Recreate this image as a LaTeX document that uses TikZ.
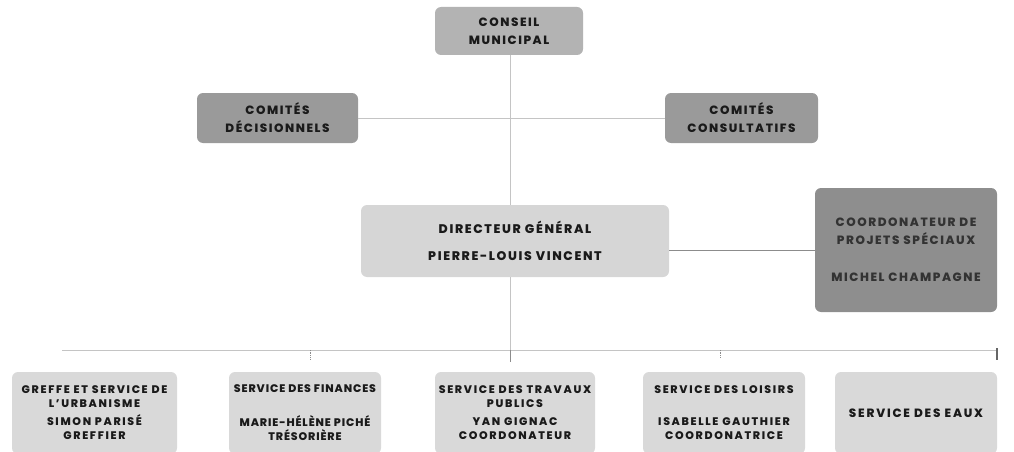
\documentclass[tikz,border=0pt]{standalone}
\usepackage{fontspec}
\newfontfamily\popa{Poppins}[LetterSpace=13, BoldFont={Poppins ExtraBold}]
\newfontfamily\popb{Poppins}[LetterSpace=15, BoldFont={Poppins ExtraBold}]
\newfontfamily\popc{Poppins}[LetterSpace=8, BoldFont={Poppins ExtraBold}]
\definecolor{cmun}{HTML}{B3B3B3}
\definecolor{ccom}{HTML}{9A9A9A}
\definecolor{cdg}{HTML}{D6D6D6}
\definecolor{ccoord}{HTML}{8E8E8E}
\definecolor{csvc}{HTML}{D9D9D9}
\definecolor{ctxt}{HTML}{1A1A1A}
\definecolor{cline}{HTML}{C4C4C4}
\tikzset{
  orgbox/.style={rounded corners=6pt, align=center, inner sep=0pt, text=ctxt,
    font=\popa\bfseries\fontsize{12}{18}\selectfont},
  svcbox/.style={orgbox, fill=csvc, minimum height=82pt,
    font=\popb\bfseries\fontsize{11}{14}\selectfont},
  link/.style={draw=cline, line width=0.7pt},
  tick/.style={draw=black!45, line width=0.7pt},
}
\begin{document}
\begin{tikzpicture}[x=1pt,y=-1pt]
\useasboundingbox (0,0) rectangle (1014,452);
% top level
\node[orgbox, fill=cmun, minimum width=148pt, minimum height=48pt] (conseil) at (509,31) {CONSEIL\\MUNICIPAL};
\node[orgbox, fill=ccom, minimum width=161pt, minimum height=50pt] (comdec) at (277.5,118) {COMITÉS\\DÉCISIONNELS};
\node[orgbox, fill=ccom, minimum width=153pt, minimum height=50pt] (comcon) at (741.5,118) {COMITÉS\\CONSULTATIFS};
\node[orgbox, fill=cdg, minimum width=308pt, minimum height=72pt,
  font=\popa\bfseries\fontsize{12.5}{27}\selectfont] (dg) at (515,241) {DIRECTEUR GÉNÉRAL\\PIERRE-LOUIS VINCENT};
\node[orgbox, fill=ccoord, minimum width=182pt, minimum height=124pt, text=black!80] (coord) at (906,250)
  {COORDONATEUR DE\\PROJETS SPÉCIAUX\\[19pt]MICHEL CHAMPAGNE};
% services
\node[svcbox, minimum width=165pt] (s1) at (94.5,413) {GREFFE ET SERVICE DE\\L’URBANISME\\[4pt]SIMON PARISÉ\\GREFFIER};
\node[svcbox, minimum width=152pt, font=\popc\bfseries\fontsize{11}{14}\selectfont] (s2) at (305,413)
  {SERVICE DES FINANCES\\\strut\\[4pt]MARIE-HÉLÈNE PICHÉ\\TRÉSORIÈRE};
\node[svcbox, minimum width=160pt] (s3) at (515,413) {SERVICE DES TRAVAUX\\PUBLICS\\[4pt]YAN GIGNAC\\COORDONATEUR};
\node[svcbox, minimum width=162pt] (s4) at (724,413) {SERVICE DES LOISIRS\\\strut\\[4pt]ISABELLE GAUTHIER\\COORDONATRICE};
\node[svcbox, minimum width=162pt, font=\popb\bfseries\fontsize{12}{14}\selectfont] (s5) at (916,413) {SERVICE DES EAUX};
% bus coordinates
\coordinate (busL) at (62,350);
\coordinate (busR) at (997,350);
\coordinate (busM) at (510,350);
\coordinate (bus2) at (310,350);
\coordinate (bus4) at (720,350);
% connectors
\draw[link] (conseil.south -| busM) -- (dg.north -| busM);
\draw[link] (comdec.east) -- (comcon.west);
\draw[link, draw=black!45] (coord.west) -- (coord.west -| dg.east);
\draw[link] (dg.south -| busM) -- (busM);
\draw[link] (busL) -- (busR);
\draw[tick] (busM) -- ++(0,12);
\draw[draw=black!60, line width=1.1pt] (busR) ++(0,-2) -- ++(0,12);
\draw[tick, densely dotted] (bus2) -- ++(0,10);
\draw[tick, densely dotted] (bus4) -- ++(0,8);
\end{tikzpicture}
\end{document}
